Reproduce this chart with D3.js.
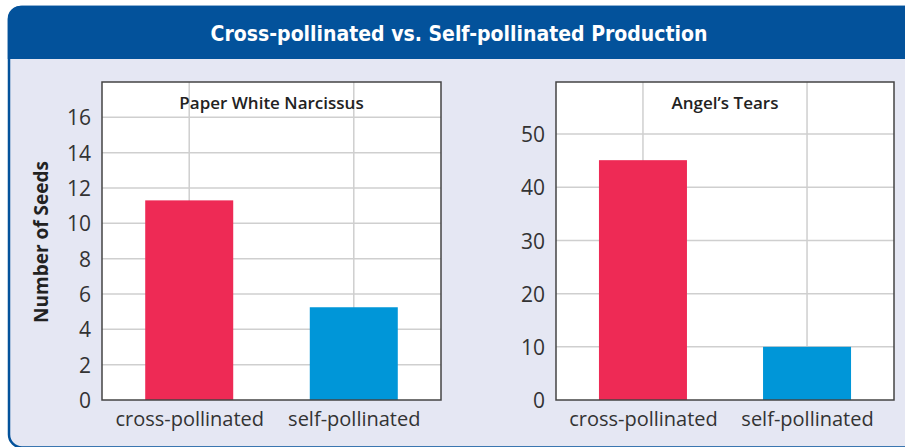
<!DOCTYPE html>
<html>
<head>
<meta charset="utf-8">
<script src="https://cdn.jsdelivr.net/npm/d3@7"></script>
<style>
  body { margin: 0; background: #fff; }
  svg { display: block; }
</style>
</head>
<body>
<svg id="chart" width="905" height="447"></svg>
<script>
const width = 905;
const height = 447;

// data
const categories = ["cross-pollinated", "self-pollinated"];
const narcissusSeeds = [11.3, 5.25];
const angelsTearsSeeds = [45.1, 10];
const narcissusTicks = [0, 2, 4, 6, 8, 10, 12, 14, 16];
const angelsTearsTicks = [0, 10, 20, 30, 40, 50];
const barColors = ["#ee2a55", "#0096d8"];

const svg = d3.select("#chart");

// panel background with rounded corners
const px = 9, py = 7, r = 13;
svg.append("rect")
    .attr("x", px)
    .attr("y", py)
    .attr("width", width + 40)
    .attr("height", height - py + 0.5)
    .attr("rx", r)
    .attr("fill", "#e5e7f3")
    .attr("stroke", "#03529b")
    .attr("stroke-width", 2.5);

// header
svg.append("path")
    .attr("d", `M${px - 1.25},59 V${py + r} A${r},${r} 0 0 1 ${px + r},${py - 1.25} H${width} V59 Z`)
    .attr("fill", "#03529b");

svg.append("text")
    .attr("x", 459)
    .attr("y", 41)
    .attr("text-anchor", "middle")
    .attr("fill", "#fff")
    .attr("font-family", "'DejaVu Sans'")
    .attr("font-stretch", "condensed")
    .attr("font-weight", "bold")
    .attr("font-size", "21px")
    .text("Cross-pollinated vs. Self-pollinated Production");

// y axis title
svg.append("text")
    .attr("transform", "translate(48,242) rotate(-90)")
    .attr("text-anchor", "middle")
    .attr("fill", "#222")
    .attr("font-family", "'Open Sans'")
    .attr("font-weight", "bold")
    .attr("font-size", "19px")
    .text("Number of Seeds");

function drawPanel(opt) {
    const g = svg.append("g");
    const x = d3.scalePoint()
        .domain(categories)
        .range([opt.left, opt.right])
        .padding(0.53);
    const y = d3.scaleLinear()
        .domain([0, opt.max])
        .range([opt.bottom, opt.top]);

    g.append("rect")
        .attr("x", opt.left)
        .attr("y", opt.top)
        .attr("width", opt.right - opt.left)
        .attr("height", opt.bottom - opt.top)
        .attr("fill", "#fff");

    // gridlines
    g.selectAll(".hgrid")
        .data(opt.ticks.filter(t => t > 0))
        .enter()
        .append("line")
        .attr("x1", opt.left)
        .attr("x2", opt.right)
        .attr("y1", d => y(d))
        .attr("y2", d => y(d))
        .attr("stroke", "#cfcfcf")
        .attr("stroke-width", 1.5);

    g.selectAll(".vgrid")
        .data(categories)
        .enter()
        .append("line")
        .attr("x1", d => x(d))
        .attr("x2", d => x(d))
        .attr("y1", opt.top)
        .attr("y2", opt.bottom)
        .attr("stroke", "#cfcfcf")
        .attr("stroke-width", 1.5);

    // bars
    const barW = 88;
    g.selectAll(".bar")
        .data(opt.values)
        .enter()
        .append("rect")
        .attr("x", (d, i) => x(categories[i]) - barW / 2)
        .attr("y", d => y(d))
        .attr("width", barW)
        .attr("height", d => y(0) - y(d))
        .attr("fill", (d, i) => barColors[i]);

    // frame
    g.append("rect")
        .attr("x", opt.left)
        .attr("y", opt.top)
        .attr("width", opt.right - opt.left)
        .attr("height", opt.bottom - opt.top)
        .attr("fill", "none")
        .attr("stroke", "#444")
        .attr("stroke-width", 1.5);

    // y tick labels
    const yAxis = g.append("g")
        .attr("transform", `translate(${opt.left},0)`)
        .call(d3.axisLeft(y).tickValues(opt.ticks).tickSize(0).tickPadding(11));
    yAxis.select(".domain").remove();
    yAxis.selectAll("text")
        .attr("fill", "#333")
        .attr("font-family", "'Open Sans'")
        .attr("font-size", "21px")
        .attr("dy", "0.36em");

    // x labels
    const xAxis = g.append("g")
        .attr("transform", `translate(0,${opt.bottom})`)
        .call(d3.axisBottom(x).tickSize(0).tickPadding(8));
    xAxis.select(".domain").remove();
    xAxis.selectAll("text")
        .attr("fill", "#333")
        .attr("font-family", "'Open Sans'")
        .attr("font-size", "20px")
        .attr("dy", "0.9em");

    // title
    g.append("text")
        .attr("x", (opt.left + opt.right) / 2)
        .attr("y", opt.top + 27)
        .attr("text-anchor", "middle")
        .attr("fill", "#222")
        .attr("font-family", "'Open Sans'")
        .attr("font-weight", 600)
        .attr("font-size", "17px")
        .text(opt.title);
}

drawPanel({
    title: "Paper White Narcissus",
    values: narcissusSeeds,
    ticks: narcissusTicks,
    max: 18,
    left: 102, right: 441, top: 82, bottom: 400
});

drawPanel({
    title: "Angel\u2019s Tears",
    values: angelsTearsSeeds,
    ticks: angelsTearsTicks,
    max: 59.8,
    left: 556, right: 894, top: 82, bottom: 400
});
</script>
</body>
</html>
